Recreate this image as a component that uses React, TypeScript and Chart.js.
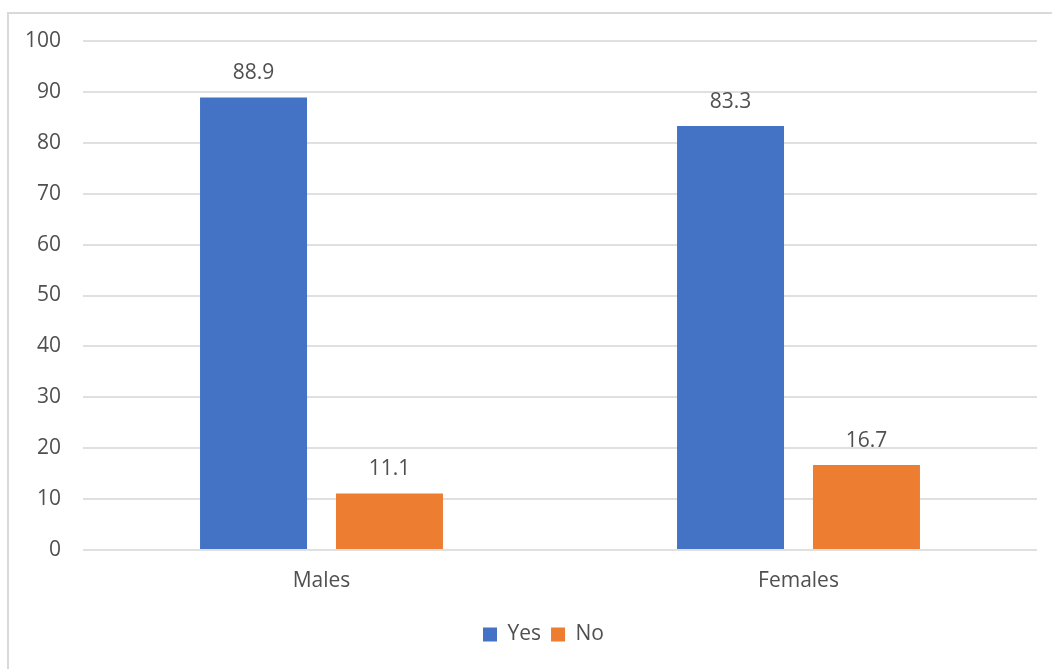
import React, { useEffect, useRef } from "react";
import { Chart, registerables } from "chart.js";

Chart.register(...registerables);

const categories = ["Males", "Females"];
const yesValues = [88.9, 83.3];
const noValues = [11.1, 16.7];
const seriesNames = ["Yes", "No"];
const yTicks = [0, 10, 20, 30, 40, 50, 60, 70, 80, 90, 100];

const FONT = "'Open Sans', 'Noto Sans', sans-serif";
const TEXT = "#505050";
const SIZE = 21;

const frame = {
  id: "frame",
  beforeDraw(chart: any) {
    const ctx = chart.ctx;
    ctx.save();
    ctx.fillStyle = "#ffffff";
    ctx.fillRect(0, 0, chart.width, chart.height);
    ctx.strokeStyle = "#d9d9d9";
    ctx.lineWidth = 2;
    ctx.strokeRect(8, 13, chart.width + 20, chart.height + 20);
    ctx.restore();
  },
  afterLayout(chart: any) {
    const lg = chart.legend;
    if (lg) {
      lg.left += 25;
      lg.right += 25;
    }
  },
};

const valueLabels = {
  id: "valueLabels",
  afterDatasetsDraw(chart: any) {
    const ctx = chart.ctx;
    ctx.save();
    ctx.font = `${SIZE}px ${FONT}`;
    ctx.fillStyle = TEXT;
    ctx.textAlign = "center";
    ctx.textBaseline = "middle";
    chart.data.datasets.forEach((ds: any, i: number) => {
      const meta = chart.getDatasetMeta(i);
      meta.data.forEach((bar: any, j: number) => {
        ctx.fillText(String(ds.data[j].toFixed(1)), bar.x, bar.y - 24);
      });
    });
    ctx.restore();
  },
};

export default function App() {
  const ref = useRef<HTMLCanvasElement | null>(null);
  useEffect(() => {
    if (!ref.current) return;
    const chart = new Chart(ref.current, {
      type: "bar",
      data: {
        labels: categories,
        datasets: [
          {
            label: seriesNames[0],
            data: yesValues,
            backgroundColor: "#4472C4",
            categoryPercentage: 0.57,
            barPercentage: 0.787,
          },
          {
            label: seriesNames[1],
            data: noValues,
            backgroundColor: "#ED7D31",
            categoryPercentage: 0.57,
            barPercentage: 0.787,
          },
        ],
      },
      options: {
        animation: false,
        responsive: false,
        maintainAspectRatio: false,
        layout: { padding: { top: 41, right: 15, bottom: 14, left: 0 } },
        scales: {
          x: {
            grid: { display: false, drawTicks: false },
            border: { display: false },
            ticks: { color: TEXT, font: { family: FONT, size: SIZE }, padding: 18 },
            afterFit(scale: any) {
              scale.height = 64;
            },
          },
          y: {
            min: 0,
            max: 100,
            afterBuildTicks(scale: any) {
              scale.ticks = yTicks.map((v) => ({ value: v }));
            },
            grid: { color: "#e0e0e0", lineWidth: 2, drawTicks: false },
            border: { display: false },
            ticks: { color: TEXT, font: { family: FONT, size: SIZE }, padding: 22 },
            afterFit(scale: any) {
              scale.width = 83;
            },
          },
        },
        plugins: {
          legend: {
            position: "bottom",
            labels: {
              color: TEXT,
              font: { family: FONT, size: SIZE },
              boxWidth: 14,
              boxHeight: 14,
              padding: 10,
            },
          },
          tooltip: { enabled: false },
        },
      },
      plugins: [frame, valueLabels],
    });
    return () => chart.destroy();
  }, []);
  return (
    <div style={{ position: "fixed", left: 0, top: 0, width: 1052, height: 669 }}>
      <canvas ref={ref} width={1052} height={669} style={{ width: 1052, height: 669, display: "block" }} />
    </div>
  );
}
